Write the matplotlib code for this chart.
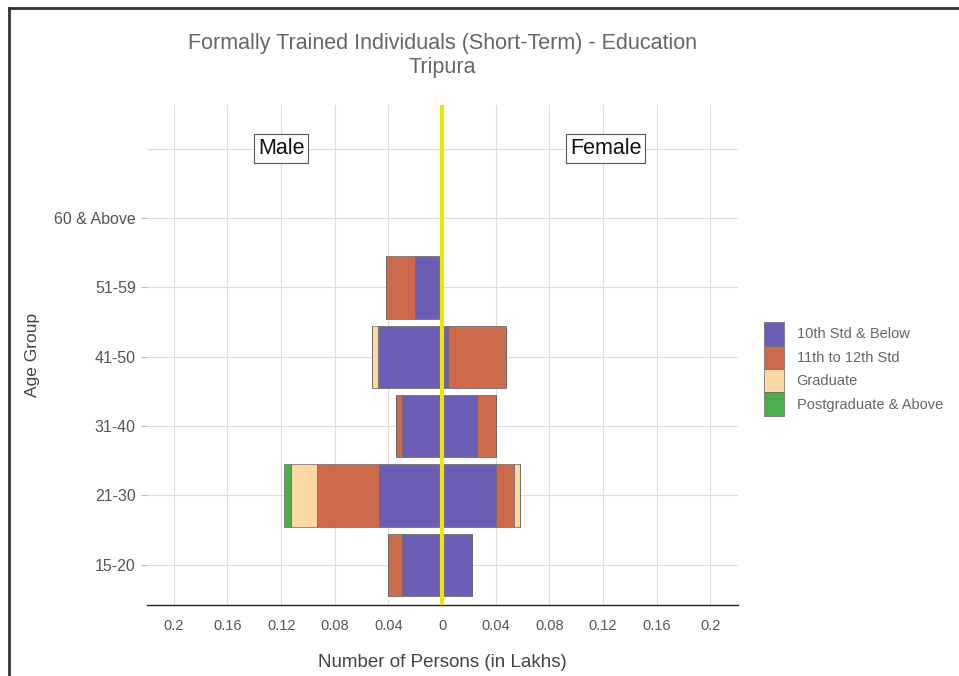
import matplotlib
matplotlib.use("Agg")
import matplotlib.pyplot as plt
from matplotlib.lines import Line2D
import numpy as np

plt.rcParams["font.family"] = ["Liberation Sans", "DejaVu Sans"]

# --- Data (lakhs) ---
age_groups = ["15-20", "21-30", "31-40", "41-50", "51-59", "60 & Above", ""]
levels = ["10th Std & Below", "11th to 12th Std", "Graduate", "Postgraduate & Above"]
colors = ["#6a5fb4", "#cd6a4c", "#fcd9a4", "#4cae4c"]

male_10th = [0.030, 0.047, 0.030, 0.048, 0.020, 0.0, 0.0]
male_12th = [0.010, 0.046, 0.004, 0.000, 0.022, 0.0, 0.0]
male_grad = [0.000, 0.020, 0.000, 0.004, 0.000, 0.0, 0.0]
male_pg = [0.000, 0.005, 0.000, 0.000, 0.000, 0.0, 0.0]

female_10th = [0.022, 0.040, 0.026, 0.0045, 0.0, 0.0, 0.0]
female_12th = [0.000, 0.0135, 0.014, 0.043, 0.0, 0.0, 0.0]
female_grad = [0.000, 0.0045, 0.000, 0.000, 0.0, 0.0, 0.0]
female_pg = [0.000, 0.000, 0.000, 0.000, 0.0, 0.0, 0.0]

xticks = [-0.2, -0.16, -0.12, -0.08, -0.04, 0, 0.04, 0.08, 0.12, 0.16, 0.2]
xticklabels = ["0.2", "0.16", "0.12", "0.08", "0.04", "0", "0.04", "0.08", "0.12", "0.16", "0.2"]

fig = plt.figure(figsize=(9.59, 6.76), dpi=100)
ax = fig.add_axes([0.1533, 0.105, 0.6162, 0.7397])

y = np.arange(len(age_groups))
male = [male_10th, male_12th, male_grad, male_pg]
female = [female_10th, female_12th, female_grad, female_pg]

left_m = np.zeros(len(y))
left_f = np.zeros(len(y))
for i in range(4):
    vm = -np.array(male[i])
    vf = np.array(female[i])
    ax.barh(y, vm, left=left_m, height=0.9, color=colors[i], edgecolor="#666666",
            linewidth=0.5, label=levels[i], zorder=2)
    ax.barh(y, vf, left=left_f, height=0.9, color=colors[i], edgecolor="#666666",
            linewidth=0.5, zorder=2)
    left_m += vm
    left_f += vf

ax.axvline(0, color="#e8e800", linewidth=3, zorder=4)

box = dict(boxstyle="square,pad=0.18", fc="white", ec="#555555", lw=0.8)
ax.text(-0.12, 6, "Male", ha="center", va="center", fontsize=15.5, color="#111111",
        bbox=box, zorder=5)
ax.text(0.122, 6, "Female", ha="center", va="center", fontsize=15.5, color="#111111",
        bbox=box, zorder=5)

ax.set_xlim(-0.22, 0.2206)
ax.set_ylim(-0.58, 6.63)
ax.set_xticks(xticks)
ax.set_xticklabels(xticklabels, fontsize=10.5, color="#555555")
ax.set_yticks(y[:-1])
ax.set_yticklabels(age_groups[:-1], fontsize=11.5, color="#555555")
ax.set_yticks([y[-1]], minor=True)
ax.tick_params(axis="x", length=0, pad=10)
ax.tick_params(axis="y", which="both", length=4, color="#bbbbbb", pad=4)
ax.tick_params(axis="y", which="minor", length=0)
ax.grid(True, which="both", color="#dddddd", linewidth=0.8, zorder=0)
ax.set_axisbelow(True)
for s in ["top", "right", "left"]:
    ax.spines[s].set_visible(False)
ax.spines["bottom"].set_color("#222222")
ax.spines["bottom"].set_linewidth(1)

ax.set_xlabel("Number of Persons (in Lakhs)", fontsize=13.5, color="#444444", labelpad=15)
ax.set_ylabel("Age Group", fontsize=12.5, color="#444444", labelpad=10)

fig.text(0.461, 0.935, "Formally Trained Individuals (Short-Term) - Education",
         ha="center", va="center", fontsize=15.5, color="#666666")
fig.text(0.461, 0.900, "Tripura", ha="center", va="center", fontsize=15.5, color="#666666")

ax.legend(loc="center left", bbox_to_anchor=(1.0, 0.472), frameon=False, fontsize=10.5,
          handlelength=1.37, handleheight=2.1, handletextpad=0.85, labelspacing=0.0,
          labelcolor="#666666", borderaxespad=1.4)

# frame lines of the screenshot
fig.add_artist(Line2D([0.0099, 0.0099], [0, 0.988], color="#333333", linewidth=2))
fig.add_artist(Line2D([0.0099, 1], [0.988, 0.988], color="#333333", linewidth=2))

fig.savefig("out.png", dpi=100)
